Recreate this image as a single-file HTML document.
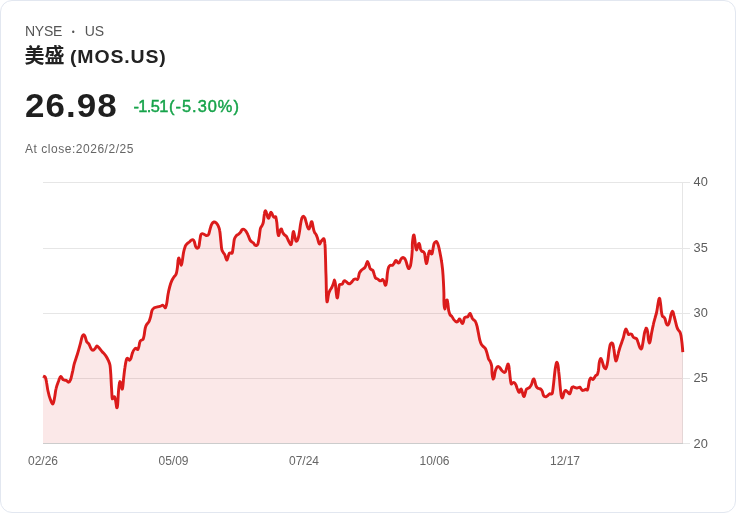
<!DOCTYPE html>
<html lang="zh">
<head>
<meta charset="utf-8">
<title>美盛 (MOS.US)</title>
<style>
html,body{margin:0;padding:0;background:#fff;}
body{width:736px;height:513px;overflow:hidden;font-family:"Liberation Sans","Noto Sans CJK SC",sans-serif;}
.card{position:absolute;left:0;top:0;width:734px;height:511px;border:1px solid #e2e7f0;border-radius:12px;background:#fff;}
.t{position:absolute;white-space:nowrap;line-height:1;transform-origin:0 0;}
#ex{left:25px;top:24px;font-size:14px;color:#555;transform:translateZ(0);}
#ex .a{letter-spacing:-0.25px;}
#ex .d{display:inline-block;font-size:8.5px;vertical-align:0.6px;margin:0 10px 0 9.6px;}
#nm{left:25px;top:46px;font-size:18px;font-weight:700;color:#222;}
#nm b{font-size:20px;font-weight:700;position:relative;top:0px;margin-left:-0.5px;}
#nm span{display:inline-block;transform-origin:0 50%;transform:scaleX(1.08);letter-spacing:0.8px;}
#px{left:25px;top:88.6px;font-size:33px;font-weight:700;color:#1f1f1f;letter-spacing:1px;transform:scaleX(1.06);}
#ch{left:133.5px;top:98.4px;font-size:16.4px;color:#16a34a;-webkit-text-stroke:0.45px #16a34a;transform:translateZ(0);}
#ch .a{letter-spacing:-0.6px;}
#ch .b{letter-spacing:1px;margin-left:1.2px;}
#cl{left:25px;top:143px;font-size:12px;color:#666;letter-spacing:0.53px;}
svg{position:absolute;left:0;top:0;}
svg text{font-family:"Liberation Sans",sans-serif;font-size:12.8px;fill:#5c5c5c;}
svg .xl text{font-size:12px;fill:#666;}
</style>
</head>
<body>
<div class="card"></div>
<div class="t" id="ex"><span class="a">NYSE</span><span class="d">•</span>US</div>
<div class="t" id="nm"><b>美盛</b> <span>(MOS.US)</span></div>
<div class="t" id="px">26.98</div>
<div class="t" id="ch"><span class="a">-1.51</span><span class="b">(-5.30%)</span></div>
<div class="t" id="cl">At close:2026/2/25</div>
<svg width="736" height="513" viewBox="0 0 736 513">
<g stroke="#e6e6e6" stroke-width="1" shape-rendering="crispEdges">
<line x1="43" y1="182.5" x2="690" y2="182.5"/>
<line x1="43" y1="248.5" x2="690" y2="248.5"/>
<line x1="43" y1="313.5" x2="690" y2="313.5"/>
<line x1="43" y1="378.5" x2="690" y2="378.5"/>

<line x1="682.5" y1="182" x2="682.5" y2="444"/>
</g>
<!--AREA--><path d="M43.0 376.1 C43.4 376.3 44.7 376.1 45.3 377.2 C45.9 378.3 46.2 380.4 46.6 382.7 C47.1 385.0 47.3 388.2 48.0 391.0 C48.6 393.8 49.4 397.1 50.3 399.3 C51.1 401.4 52.2 404.2 52.9 403.9 C53.6 403.6 54.1 400.2 54.6 397.6 C55.1 395.1 55.4 391.3 56.1 388.5 C56.7 385.7 57.8 383.1 58.6 381.0 C59.3 379.0 59.9 376.6 60.7 376.4 C61.5 376.2 62.3 379.1 63.2 379.7 C64.1 380.4 65.3 380.0 66.2 380.4 C67.1 380.8 67.8 382.4 68.5 382.2 C69.3 382.0 70.0 381.2 70.7 379.4 C71.4 377.5 72.0 373.7 72.7 371.1 C73.3 368.5 73.5 366.4 74.3 363.6 C75.1 360.9 76.3 357.7 77.3 354.5 C78.3 351.3 79.3 347.6 80.1 344.6 C80.9 341.5 81.7 337.9 82.3 336.3 C82.8 334.6 83.1 334.6 83.6 334.6 C84.1 334.7 84.6 335.4 85.1 336.6 C85.6 337.8 86.1 340.5 86.7 341.8 C87.4 343.0 88.2 342.8 88.9 343.9 C89.6 345.1 90.4 347.6 91.1 348.7 C91.7 349.8 92.4 350.4 93.0 350.4 C93.7 350.4 94.4 349.5 95.0 348.7 C95.7 348.0 96.2 346.1 96.9 345.9 C97.5 345.7 98.0 346.6 98.8 347.6 C99.7 348.5 101.1 350.4 102.2 351.7 C103.3 353.0 104.5 353.9 105.5 355.4 C106.5 356.8 107.5 358.7 108.3 360.3 C109.0 362.0 109.5 362.9 110.0 365.3 C110.4 367.6 110.5 371.0 110.8 374.4 C111.0 377.9 111.2 382.1 111.4 386.0 C111.7 389.9 111.9 395.5 112.1 397.6 C112.4 399.7 112.5 398.6 112.9 398.4 C113.3 398.3 114.1 396.2 114.6 396.8 C115.1 397.3 115.4 400.0 115.8 401.8 C116.1 403.6 116.4 407.0 116.7 407.6 C117.1 408.1 117.3 407.6 117.6 405.1 C117.9 402.6 118.1 396.4 118.4 392.6 C118.7 388.9 119.2 384.4 119.6 382.7 C119.9 381.0 120.2 381.5 120.6 382.4 C120.9 383.2 121.2 386.7 121.6 387.7 C121.9 388.7 122.2 389.9 122.5 388.5 C122.9 387.1 123.2 382.8 123.5 379.4 C123.9 375.9 124.4 371.0 124.9 367.8 C125.3 364.6 125.8 361.9 126.2 360.3 C126.6 358.7 127.0 358.2 127.5 358.2 C128.1 358.2 129.0 360.2 129.5 360.3 C130.1 360.4 130.3 359.9 130.8 358.7 C131.3 357.4 131.9 354.4 132.5 352.9 C133.0 351.3 133.6 350.3 134.2 349.5 C134.7 348.8 135.2 348.2 135.8 348.2 C136.4 348.2 137.3 349.9 137.8 349.5 C138.3 349.2 138.6 347.6 139.0 346.2 C139.3 344.9 139.5 342.6 140.0 341.6 C140.4 340.6 140.9 340.5 141.4 340.1 C142.0 339.7 142.7 340.0 143.1 339.3 C143.5 338.5 143.7 337.3 144.1 335.5 C144.5 333.6 144.8 329.8 145.3 328.0 C145.7 326.2 145.9 325.7 146.6 324.6 C147.2 323.5 148.4 322.7 149.1 321.3 C149.8 319.9 150.2 318.1 150.7 316.3 C151.2 314.5 151.5 311.9 152.0 310.5 C152.6 309.1 153.2 308.7 154.0 308.0 C154.9 307.4 156.2 307.2 157.4 306.9 C158.5 306.6 159.8 306.3 160.7 306.1 C161.5 305.8 162.0 305.1 162.7 305.2 C163.3 305.3 163.8 306.3 164.3 306.7 C164.8 307.1 165.1 308.3 165.5 307.7 C165.9 307.1 166.4 305.4 166.8 303.1 C167.2 300.8 167.6 296.7 168.1 294.0 C168.6 291.2 169.2 288.7 169.8 286.5 C170.4 284.3 171.1 282.3 171.8 280.7 C172.5 279.1 173.2 278.1 173.9 277.0 C174.6 276.0 175.4 275.9 175.9 274.6 C176.5 273.2 176.9 271.4 177.2 269.1 C177.6 266.8 177.8 262.7 178.1 260.8 C178.3 259.0 178.6 257.8 178.9 258.0 C179.2 258.1 179.7 260.4 180.1 261.6 C180.4 262.8 180.9 265.3 181.2 265.3 C181.6 265.3 181.8 263.8 182.2 261.6 C182.6 259.4 183.1 254.7 183.6 252.2 C184.1 249.6 184.7 247.8 185.2 246.4 C185.8 245.0 186.3 244.6 186.9 243.9 C187.5 243.2 188.3 242.8 189.1 242.2 C189.8 241.6 190.5 240.7 191.2 240.3 C191.9 239.8 192.7 239.4 193.2 239.8 C193.8 240.1 194.1 241.1 194.5 242.2 C194.9 243.4 195.2 245.7 195.7 246.7 C196.2 247.7 196.8 248.4 197.4 248.4 C197.9 248.4 198.4 248.0 198.8 246.7 C199.3 245.4 199.5 242.6 199.8 240.6 C200.2 238.6 200.4 235.9 200.8 234.8 C201.2 233.6 201.7 233.7 202.3 233.6 C202.9 233.6 203.7 234.1 204.5 234.5 C205.2 234.8 206.1 235.6 206.8 235.6 C207.5 235.6 208.1 235.6 208.6 234.5 C209.2 233.3 209.6 230.7 210.1 229.0 C210.6 227.2 211.1 225.2 211.8 224.0 C212.4 222.8 213.2 222.2 213.9 222.0 C214.6 221.8 215.4 222.2 216.1 222.8 C216.8 223.5 217.5 224.4 218.1 225.7 C218.7 227.0 219.3 228.3 219.7 230.6 C220.2 233.0 220.4 236.7 220.7 239.8 C221.1 242.8 221.3 246.8 221.7 248.9 C222.1 250.9 222.5 251.2 223.0 252.2 C223.5 253.2 224.2 253.7 224.7 254.7 C225.2 255.7 225.6 257.4 226.0 258.3 C226.4 259.2 226.7 260.2 227.0 260.0 C227.4 259.8 227.6 258.3 228.0 257.2 C228.4 256.1 228.8 254.0 229.3 253.3 C229.8 252.7 230.5 253.1 231.0 253.0 C231.5 252.9 231.9 253.8 232.3 252.7 C232.7 251.6 233.0 248.6 233.3 246.4 C233.7 244.2 233.9 241.1 234.3 239.4 C234.8 237.7 235.3 237.0 236.0 236.1 C236.6 235.3 237.5 234.9 238.3 234.3 C239.0 233.6 239.8 233.1 240.4 232.3 C241.1 231.5 241.6 230.0 242.1 229.5 C242.7 229.0 243.1 229.0 243.8 229.3 C244.4 229.6 245.2 230.2 245.9 231.1 C246.6 232.0 247.2 233.3 247.9 234.8 C248.6 236.2 249.3 238.6 249.9 239.8 C250.5 240.9 251.0 241.2 251.6 241.7 C252.1 242.2 252.7 242.2 253.2 242.7 C253.8 243.3 254.4 244.6 254.9 245.1 C255.4 245.5 255.7 245.8 256.2 245.6 C256.7 245.4 257.4 245.3 257.9 243.9 C258.4 242.5 258.8 239.8 259.2 237.3 C259.6 234.8 259.9 230.9 260.3 229.0 C260.8 227.0 261.5 226.8 262.0 225.7 C262.5 224.6 262.9 224.4 263.3 222.4 C263.7 220.3 264.1 215.2 264.5 213.2 C264.8 211.3 265.1 210.7 265.5 210.7 C265.8 210.7 266.3 212.1 266.6 213.2 C267.0 214.3 267.4 216.5 267.8 217.4 C268.2 218.2 268.5 218.6 268.8 218.2 C269.1 217.8 269.5 215.9 269.8 214.9 C270.1 213.9 270.4 212.6 270.8 212.4 C271.1 212.2 271.6 212.9 271.9 213.6 C272.3 214.2 272.7 215.6 273.1 216.2 C273.5 216.9 274.0 217.2 274.4 217.4 C274.9 217.5 275.4 216.2 275.8 217.0 C276.1 217.9 276.4 219.8 276.8 222.4 C277.1 224.9 277.4 230.1 277.7 232.3 C278.1 234.5 278.4 235.9 278.7 235.6 C279.1 235.3 279.6 231.7 280.1 230.6 C280.5 229.5 280.9 228.7 281.4 229.0 C281.8 229.3 282.2 231.3 282.7 232.3 C283.2 233.3 283.8 234.1 284.4 234.8 C285.0 235.5 285.8 235.6 286.4 236.4 C287.0 237.3 287.5 238.7 288.0 239.8 C288.6 240.9 289.2 242.2 289.7 243.1 C290.2 243.9 290.6 245.0 291.0 244.7 C291.4 244.5 291.7 243.2 291.9 241.4 C292.2 239.6 292.5 235.6 292.8 234.0 C293.1 232.3 293.3 231.2 293.6 231.5 C293.9 231.8 294.2 234.1 294.6 235.6 C295.0 237.2 295.4 239.7 295.8 240.6 C296.1 241.5 296.5 241.4 296.9 240.9 C297.3 240.5 297.8 239.6 298.2 238.1 C298.7 236.7 299.0 234.7 299.4 232.3 C299.8 230.0 300.2 226.4 300.6 224.0 C301.0 221.6 301.4 219.2 301.9 217.9 C302.4 216.6 303.1 216.2 303.5 216.2 C304.0 216.2 304.4 216.9 304.9 217.9 C305.3 218.9 305.8 220.9 306.2 222.4 C306.6 223.9 307.1 225.7 307.5 226.9 C308.0 228.0 308.4 229.1 308.9 229.0 C309.3 229.0 309.8 227.7 310.2 226.5 C310.6 225.4 310.8 222.7 311.2 222.0 C311.5 221.4 311.8 221.5 312.2 222.4 C312.5 223.3 312.8 225.7 313.2 227.4 C313.5 229.0 314.0 231.1 314.5 232.3 C315.0 233.5 315.6 233.5 316.1 234.5 C316.6 235.4 317.0 236.7 317.5 238.1 C317.9 239.5 318.4 241.8 318.8 242.8 C319.2 243.7 319.4 244.1 319.8 243.9 C320.2 243.7 320.6 242.2 321.1 241.4 C321.6 240.7 322.3 239.9 322.8 239.5 C323.3 239.0 323.7 238.2 324.1 239.0 C324.5 239.7 324.7 241.3 324.9 243.9 C325.2 246.6 325.3 250.4 325.4 254.7 C325.6 259.0 325.7 265.7 325.8 269.6 C325.9 273.5 326.0 274.2 326.1 278.1 C326.2 282.0 326.3 289.1 326.4 293.0 C326.5 296.9 326.7 300.1 326.9 301.3 C327.1 302.5 327.3 301.7 327.6 300.5 C327.8 299.2 328.2 295.5 328.6 293.8 C329.0 292.2 329.3 291.6 329.9 290.5 C330.4 289.4 331.3 288.5 331.9 287.2 C332.5 286.0 333.1 284.3 333.5 283.1 C334.0 281.9 334.2 279.9 334.5 280.1 C334.8 280.2 335.1 281.9 335.4 283.9 C335.6 285.9 335.9 289.9 336.2 292.2 C336.5 294.5 336.7 297.0 337.0 297.7 C337.3 298.3 337.6 297.8 337.8 296.3 C338.1 294.9 338.4 290.8 338.7 288.9 C339.0 286.9 339.1 285.5 339.5 284.7 C339.9 284.0 340.7 284.5 341.2 284.4 C341.7 284.3 342.1 284.4 342.5 283.9 C342.9 283.4 343.3 282.0 343.6 281.4 C344.0 280.9 344.3 280.5 344.8 280.6 C345.3 280.7 345.9 281.4 346.5 281.9 C347.1 282.4 347.8 283.3 348.5 283.6 C349.1 283.8 349.5 283.9 350.1 283.6 C350.7 283.2 351.6 282.1 352.3 281.4 C352.9 280.7 353.4 279.8 353.9 279.4 C354.5 279.0 355.0 278.9 355.6 278.9 C356.2 278.9 356.9 279.7 357.4 279.4 C357.9 279.1 358.1 278.3 358.4 277.3 C358.7 276.2 359.0 274.2 359.4 273.1 C359.8 272.0 360.4 271.3 361.1 270.6 C361.7 269.9 362.4 269.5 363.0 269.0 C363.7 268.4 364.5 268.2 365.0 267.3 C365.6 266.5 365.9 265.0 366.4 264.0 C366.8 263.0 367.1 261.5 367.5 261.5 C367.9 261.5 368.3 262.9 368.7 264.0 C369.1 265.1 369.5 267.2 370.0 268.2 C370.5 269.1 371.2 269.4 371.7 269.8 C372.2 270.2 372.5 269.8 373.0 270.6 C373.4 271.5 373.9 273.5 374.3 274.8 C374.8 276.0 375.1 277.4 375.6 278.1 C376.2 278.8 377.0 278.5 377.6 278.9 C378.3 279.3 379.0 280.3 379.6 280.6 C380.2 280.9 380.8 280.8 381.3 280.6 C381.8 280.4 382.2 279.3 382.6 279.4 C383.0 279.5 383.5 280.3 383.9 281.1 C384.3 281.9 384.6 283.7 384.9 284.4 C385.2 285.1 385.5 285.6 385.8 285.1 C386.0 284.6 386.3 283.4 386.6 281.4 C386.9 279.4 387.1 275.5 387.4 273.1 C387.7 270.8 388.1 268.6 388.6 267.3 C389.1 266.0 389.7 265.7 390.4 265.3 C391.1 265.0 391.9 265.7 392.5 265.3 C393.2 265.0 393.7 264.0 394.2 263.2 C394.7 262.4 395.0 261.1 395.4 260.7 C395.8 260.3 396.1 260.3 396.5 260.7 C396.9 261.1 397.4 262.5 397.9 262.8 C398.3 263.2 398.7 263.3 399.2 262.8 C399.6 262.4 400.0 260.7 400.5 259.9 C401.0 259.0 401.6 258.2 402.2 257.9 C402.7 257.5 403.3 257.5 403.8 257.9 C404.4 258.2 405.0 258.8 405.5 259.9 C406.0 260.9 406.4 262.7 406.8 264.0 C407.2 265.3 407.7 267.1 408.1 267.8 C408.5 268.6 408.7 268.8 409.1 268.5 C409.5 268.1 410.0 267.4 410.5 265.7 C410.9 264.0 411.3 260.8 411.6 258.2 C411.9 255.6 412.1 252.4 412.3 249.9 C412.4 247.4 412.2 245.4 412.4 243.2 C412.6 241.0 413.0 237.9 413.2 236.5 C413.5 235.2 413.8 234.7 414.1 235.2 C414.3 235.8 414.6 237.8 414.9 239.9 C415.2 241.9 415.4 245.6 415.7 247.3 C416.0 249.0 416.3 250.1 416.6 250.1 C416.9 250.1 417.2 248.4 417.5 247.3 C417.9 246.2 418.4 243.9 418.7 243.5 C419.1 243.1 419.4 243.9 419.7 244.8 C420.0 245.7 420.2 247.9 420.5 249.0 C420.9 250.0 421.2 250.7 421.7 251.1 C422.2 251.6 422.9 251.3 423.4 251.8 C423.8 252.3 424.3 252.6 424.7 254.0 C425.0 255.3 425.2 258.2 425.5 259.8 C425.8 261.3 426.1 263.1 426.3 263.4 C426.6 263.7 426.9 262.7 427.2 261.4 C427.5 260.1 427.8 257.3 428.2 255.6 C428.5 254.0 428.8 252.2 429.2 251.5 C429.5 250.7 429.8 250.8 430.1 251.1 C430.5 251.5 430.8 253.2 431.1 253.6 C431.5 254.0 431.8 254.4 432.1 253.5 C432.5 252.5 432.8 249.8 433.1 248.2 C433.5 246.5 433.7 244.6 434.1 243.5 C434.5 242.5 435.0 242.1 435.5 241.9 C435.9 241.6 436.4 241.4 436.9 242.0 C437.4 242.7 437.9 244.0 438.4 245.7 C438.9 247.4 439.4 249.8 439.9 252.3 C440.4 254.8 441.0 257.7 441.4 260.6 C441.9 263.5 442.2 266.2 442.6 269.7 C442.9 273.2 443.2 277.4 443.4 281.3 C443.6 285.2 443.8 289.7 443.9 292.9 C444.0 296.1 443.9 298.8 443.9 300.7 C444.0 302.7 444.0 303.5 444.1 304.9 C444.2 306.3 444.5 308.9 444.8 309.0 C445.0 309.2 445.3 307.1 445.6 305.7 C445.9 304.3 446.1 301.7 446.4 300.7 C446.7 299.8 447.0 299.7 447.2 300.2 C447.5 300.8 447.7 302.3 447.9 304.1 C448.2 305.8 448.4 309.0 448.7 310.7 C449.1 312.4 449.4 313.5 449.9 314.5 C450.4 315.5 451.2 315.7 451.9 316.5 C452.5 317.3 453.1 318.6 453.7 319.5 C454.3 320.3 455.1 321.1 455.7 321.5 C456.3 321.9 456.9 322.1 457.4 321.8 C457.8 321.5 458.3 320.3 458.7 319.8 C459.1 319.3 459.4 318.6 459.8 319.0 C460.3 319.3 460.7 321.0 461.2 321.8 C461.6 322.6 462.1 323.7 462.5 323.6 C462.9 323.6 463.2 322.4 463.5 321.5 C463.8 320.5 464.0 318.6 464.5 317.8 C464.9 317.1 465.6 317.2 466.1 317.0 C466.7 316.8 467.3 317.2 467.8 316.8 C468.3 316.4 468.7 315.1 469.1 314.5 C469.5 314.0 469.8 313.4 470.1 313.5 C470.4 313.6 470.7 314.5 471.1 315.3 C471.5 316.2 471.9 317.8 472.4 318.6 C472.9 319.5 473.6 319.6 474.1 320.1 C474.6 320.7 475.1 320.7 475.6 321.8 C476.1 322.8 476.6 324.6 477.1 326.4 C477.5 328.3 478.0 330.9 478.4 333.1 C478.8 335.3 479.3 337.9 479.7 339.7 C480.2 341.5 480.5 342.7 481.1 343.8 C481.6 345.0 482.3 345.5 483.0 346.3 C483.8 347.2 484.8 347.6 485.5 348.8 C486.2 350.1 486.7 352.1 487.2 353.8 C487.7 355.4 488.0 357.4 488.5 358.8 C489.1 360.1 490.0 360.8 490.5 362.1 C491.0 363.3 491.4 364.3 491.7 366.2 C491.9 368.2 491.9 371.8 492.1 373.9 C492.3 376.0 492.8 378.3 493.1 378.9 C493.4 379.4 493.7 378.5 494.1 377.2 C494.4 376.0 494.8 373.0 495.2 371.4 C495.7 369.8 496.1 368.6 496.6 367.8 C497.1 366.9 497.7 366.4 498.2 366.4 C498.8 366.4 499.3 367.1 499.9 367.8 C500.5 368.5 501.2 369.8 501.9 370.6 C502.5 371.3 503.1 372.0 503.7 372.2 C504.3 372.5 504.9 372.5 505.4 371.9 C505.8 371.3 506.2 369.6 506.5 368.4 C506.9 367.2 507.2 365.4 507.5 364.8 C507.8 364.1 508.2 363.7 508.5 364.5 C508.8 365.2 509.1 367.2 509.3 369.4 C509.6 371.7 509.9 375.6 510.2 378.0 C510.5 380.4 510.8 383.0 511.2 383.8 C511.5 384.7 512.0 383.2 512.5 383.0 C513.0 382.8 513.5 382.3 514.0 382.5 C514.5 382.7 515.1 383.4 515.6 384.3 C516.2 385.3 516.7 387.1 517.1 388.3 C517.6 389.5 518.1 391.0 518.5 391.6 C518.8 392.3 519.1 392.5 519.5 392.1 C519.8 391.8 520.1 390.1 520.4 389.6 C520.8 389.2 521.1 388.8 521.4 389.3 C521.8 389.8 522.1 391.5 522.4 392.6 C522.8 393.7 523.1 395.3 523.4 395.9 C523.7 396.6 524.0 396.8 524.3 396.3 C524.6 395.8 524.9 394.1 525.3 393.0 C525.6 391.8 525.9 390.1 526.4 389.3 C526.9 388.5 527.5 388.7 528.1 388.3 C528.6 388.0 529.2 387.8 529.7 387.2 C530.3 386.6 530.9 385.8 531.4 384.7 C531.9 383.6 532.3 381.5 532.7 380.5 C533.1 379.6 533.5 378.7 533.9 378.9 C534.2 379.0 534.5 380.3 534.9 381.4 C535.2 382.5 535.5 384.5 535.9 385.5 C536.2 386.6 536.7 387.2 537.2 387.7 C537.7 388.2 538.2 388.2 538.8 388.5 C539.5 388.8 540.4 388.8 541.0 389.3 C541.6 389.8 541.9 390.4 542.3 391.3 C542.7 392.2 542.9 394.1 543.3 395.0 C543.7 395.8 544.1 396.3 544.6 396.6 C545.1 396.9 545.8 396.8 546.3 396.6 C546.9 396.4 547.4 395.9 548.0 395.4 C548.5 395.0 549.1 394.0 549.6 393.8 C550.2 393.6 550.8 394.2 551.3 394.1 C551.7 394.0 552.0 394.3 552.3 393.3 C552.6 392.3 552.8 390.4 553.1 388.0 C553.4 385.6 553.8 381.9 554.1 378.9 C554.4 375.8 554.8 372.2 555.1 369.8 C555.4 367.3 555.8 365.2 556.1 364.0 C556.4 362.7 556.8 362.2 557.1 362.3 C557.4 362.4 557.6 363.3 557.9 364.8 C558.2 366.3 558.5 368.9 558.7 371.4 C559.0 373.9 559.3 376.8 559.6 379.7 C559.8 382.6 560.1 386.2 560.4 388.8 C560.7 391.4 560.9 393.9 561.2 395.4 C561.5 397.0 561.9 397.9 562.2 397.9 C562.5 398.0 562.9 396.9 563.2 395.9 C563.5 395.0 563.8 393.0 564.2 392.1 C564.6 391.2 565.1 390.6 565.5 390.5 C566.0 390.3 566.5 390.9 567.0 391.3 C567.5 391.7 568.0 392.5 568.5 393.0 C569.0 393.4 569.5 394.1 569.8 393.8 C570.2 393.5 570.5 392.3 570.8 391.3 C571.2 390.3 571.4 388.4 571.8 387.7 C572.2 386.9 572.7 386.9 573.2 386.8 C573.7 386.8 574.3 387.3 574.8 387.5 C575.4 387.7 575.9 388.0 576.5 388.0 C577.0 388.0 577.6 387.8 578.1 387.7 C578.7 387.5 579.3 387.0 579.8 387.2 C580.3 387.4 580.7 388.3 581.1 388.8 C581.6 389.4 581.9 390.3 582.4 390.5 C582.9 390.7 583.5 390.3 584.1 390.1 C584.7 390.0 585.2 389.3 585.8 389.3 C586.3 389.3 587.0 390.5 587.4 390.0 C587.9 389.5 588.1 387.9 588.4 386.3 C588.7 384.8 589.0 381.9 589.4 380.5 C589.8 379.1 590.1 378.3 590.6 378.0 C591.0 377.8 591.5 378.7 591.9 378.9 C592.3 379.1 592.6 379.6 593.0 379.4 C593.5 379.2 593.9 378.3 594.4 377.7 C594.8 377.1 595.2 376.1 595.7 375.6 C596.2 375.0 596.9 375.2 597.4 374.4 C597.8 373.6 598.0 372.5 598.4 370.6 C598.7 368.7 598.9 365.0 599.2 363.1 C599.5 361.2 599.9 360.0 600.2 359.3 C600.6 358.6 600.9 358.3 601.2 358.8 C601.6 359.3 602.0 360.8 602.4 362.1 C602.8 363.4 603.3 365.5 603.7 366.6 C604.2 367.7 604.8 368.7 605.2 368.7 C605.7 368.8 606.1 368.5 606.5 367.1 C607.0 365.7 607.5 363.1 607.9 360.4 C608.3 357.8 608.6 354.0 609.0 351.3 C609.4 348.7 609.8 346.1 610.2 344.7 C610.6 343.3 611.1 343.2 611.5 343.0 C612.0 342.9 612.5 342.9 612.8 343.9 C613.2 344.8 613.5 346.8 613.8 348.8 C614.2 350.9 614.5 354.3 614.8 356.3 C615.2 358.3 615.5 360.4 615.8 360.9 C616.2 361.4 616.4 360.5 616.8 359.3 C617.2 358.1 617.7 355.7 618.2 353.8 C618.6 351.9 619.2 350.0 619.8 348.0 C620.4 346.1 621.2 344.0 621.8 342.2 C622.4 340.4 623.0 339.0 623.5 337.2 C624.0 335.4 624.4 332.8 624.8 331.4 C625.2 330.1 625.6 329.0 625.9 329.0 C626.3 328.9 626.7 330.2 627.1 331.1 C627.5 332.0 627.9 334.0 628.4 334.4 C628.9 334.9 629.5 333.9 630.1 333.9 C630.6 333.9 631.2 333.9 631.7 334.4 C632.3 335.0 632.8 336.6 633.4 337.2 C634.0 337.8 634.5 337.8 635.1 338.1 C635.6 338.3 636.2 338.2 636.7 338.9 C637.2 339.6 637.6 341.0 638.0 342.2 C638.5 343.5 638.9 345.3 639.4 346.4 C639.8 347.5 640.3 348.6 640.7 348.8 C641.1 349.1 641.5 349.1 641.9 348.0 C642.2 346.9 642.6 344.6 643.0 342.2 C643.4 339.9 643.9 336.1 644.3 333.9 C644.8 331.7 645.3 329.9 645.7 329.0 C646.1 328.0 646.3 327.9 646.7 328.5 C647.0 329.0 647.4 330.4 647.7 332.3 C648.0 334.1 648.2 337.9 648.5 339.7 C648.8 341.5 649.0 342.9 649.3 343.0 C649.6 343.2 649.9 342.2 650.3 340.6 C650.7 338.9 651.1 335.7 651.6 333.1 C652.1 330.5 652.7 327.3 653.3 324.8 C653.8 322.3 654.4 320.3 655.0 318.2 C655.5 316.1 656.1 314.6 656.6 312.4 C657.1 310.1 657.5 306.8 657.9 304.6 C658.3 302.4 658.6 300.1 658.9 299.1 C659.2 298.1 659.5 298.0 659.8 298.8 C660.0 299.6 660.3 301.8 660.6 303.9 C660.9 306.1 661.1 309.5 661.4 311.5 C661.7 313.6 662.0 315.3 662.4 316.2 C662.8 317.1 663.3 316.4 663.7 316.9 C664.2 317.3 664.6 318.0 665.1 319.0 C665.5 320.1 665.8 322.1 666.2 323.2 C666.6 324.2 667.0 325.0 667.4 325.1 C667.8 325.3 668.3 324.9 668.7 324.0 C669.1 323.1 669.5 321.4 669.9 319.8 C670.3 318.3 670.6 315.9 671.0 314.5 C671.4 313.2 671.8 311.9 672.2 311.5 C672.5 311.2 672.8 311.5 673.2 312.4 C673.5 313.3 673.9 315.4 674.3 317.0 C674.8 318.7 675.2 320.6 675.7 322.3 C676.1 324.0 676.6 326.0 677.0 327.3 C677.4 328.6 677.9 329.4 678.3 330.1 C678.8 330.9 679.4 330.9 679.8 331.8 C680.3 332.7 680.6 333.7 681.0 335.6 C681.3 337.5 681.7 340.3 682.0 343.0 C682.3 345.8 682.7 350.6 682.8 352.2 L682.8 443 L43 443 Z" fill="rgba(220,28,28,0.1)" stroke="none"/>
<path d="M43.0 376.1 C43.4 376.3 44.7 376.1 45.3 377.2 C45.9 378.3 46.2 380.4 46.6 382.7 C47.1 385.0 47.3 388.2 48.0 391.0 C48.6 393.8 49.4 397.1 50.3 399.3 C51.1 401.4 52.2 404.2 52.9 403.9 C53.6 403.6 54.1 400.2 54.6 397.6 C55.1 395.1 55.4 391.3 56.1 388.5 C56.7 385.7 57.8 383.1 58.6 381.0 C59.3 379.0 59.9 376.6 60.7 376.4 C61.5 376.2 62.3 379.1 63.2 379.7 C64.1 380.4 65.3 380.0 66.2 380.4 C67.1 380.8 67.8 382.4 68.5 382.2 C69.3 382.0 70.0 381.2 70.7 379.4 C71.4 377.5 72.0 373.7 72.7 371.1 C73.3 368.5 73.5 366.4 74.3 363.6 C75.1 360.9 76.3 357.7 77.3 354.5 C78.3 351.3 79.3 347.6 80.1 344.6 C80.9 341.5 81.7 337.9 82.3 336.3 C82.8 334.6 83.1 334.6 83.6 334.6 C84.1 334.7 84.6 335.4 85.1 336.6 C85.6 337.8 86.1 340.5 86.7 341.8 C87.4 343.0 88.2 342.8 88.9 343.9 C89.6 345.1 90.4 347.6 91.1 348.7 C91.7 349.8 92.4 350.4 93.0 350.4 C93.7 350.4 94.4 349.5 95.0 348.7 C95.7 348.0 96.2 346.1 96.9 345.9 C97.5 345.7 98.0 346.6 98.8 347.6 C99.7 348.5 101.1 350.4 102.2 351.7 C103.3 353.0 104.5 353.9 105.5 355.4 C106.5 356.8 107.5 358.7 108.3 360.3 C109.0 362.0 109.5 362.9 110.0 365.3 C110.4 367.6 110.5 371.0 110.8 374.4 C111.0 377.9 111.2 382.1 111.4 386.0 C111.7 389.9 111.9 395.5 112.1 397.6 C112.4 399.7 112.5 398.6 112.9 398.4 C113.3 398.3 114.1 396.2 114.6 396.8 C115.1 397.3 115.4 400.0 115.8 401.8 C116.1 403.6 116.4 407.0 116.7 407.6 C117.1 408.1 117.3 407.6 117.6 405.1 C117.9 402.6 118.1 396.4 118.4 392.6 C118.7 388.9 119.2 384.4 119.6 382.7 C119.9 381.0 120.2 381.5 120.6 382.4 C120.9 383.2 121.2 386.7 121.6 387.7 C121.9 388.7 122.2 389.9 122.5 388.5 C122.9 387.1 123.2 382.8 123.5 379.4 C123.9 375.9 124.4 371.0 124.9 367.8 C125.3 364.6 125.8 361.9 126.2 360.3 C126.6 358.7 127.0 358.2 127.5 358.2 C128.1 358.2 129.0 360.2 129.5 360.3 C130.1 360.4 130.3 359.9 130.8 358.7 C131.3 357.4 131.9 354.4 132.5 352.9 C133.0 351.3 133.6 350.3 134.2 349.5 C134.7 348.8 135.2 348.2 135.8 348.2 C136.4 348.2 137.3 349.9 137.8 349.5 C138.3 349.2 138.6 347.6 139.0 346.2 C139.3 344.9 139.5 342.6 140.0 341.6 C140.4 340.6 140.9 340.5 141.4 340.1 C142.0 339.7 142.7 340.0 143.1 339.3 C143.5 338.5 143.7 337.3 144.1 335.5 C144.5 333.6 144.8 329.8 145.3 328.0 C145.7 326.2 145.9 325.7 146.6 324.6 C147.2 323.5 148.4 322.7 149.1 321.3 C149.8 319.9 150.2 318.1 150.7 316.3 C151.2 314.5 151.5 311.9 152.0 310.5 C152.6 309.1 153.2 308.7 154.0 308.0 C154.9 307.4 156.2 307.2 157.4 306.9 C158.5 306.6 159.8 306.3 160.7 306.1 C161.5 305.8 162.0 305.1 162.7 305.2 C163.3 305.3 163.8 306.3 164.3 306.7 C164.8 307.1 165.1 308.3 165.5 307.7 C165.9 307.1 166.4 305.4 166.8 303.1 C167.2 300.8 167.6 296.7 168.1 294.0 C168.6 291.2 169.2 288.7 169.8 286.5 C170.4 284.3 171.1 282.3 171.8 280.7 C172.5 279.1 173.2 278.1 173.9 277.0 C174.6 276.0 175.4 275.9 175.9 274.6 C176.5 273.2 176.9 271.4 177.2 269.1 C177.6 266.8 177.8 262.7 178.1 260.8 C178.3 259.0 178.6 257.8 178.9 258.0 C179.2 258.1 179.7 260.4 180.1 261.6 C180.4 262.8 180.9 265.3 181.2 265.3 C181.6 265.3 181.8 263.8 182.2 261.6 C182.6 259.4 183.1 254.7 183.6 252.2 C184.1 249.6 184.7 247.8 185.2 246.4 C185.8 245.0 186.3 244.6 186.9 243.9 C187.5 243.2 188.3 242.8 189.1 242.2 C189.8 241.6 190.5 240.7 191.2 240.3 C191.9 239.8 192.7 239.4 193.2 239.8 C193.8 240.1 194.1 241.1 194.5 242.2 C194.9 243.4 195.2 245.7 195.7 246.7 C196.2 247.7 196.8 248.4 197.4 248.4 C197.9 248.4 198.4 248.0 198.8 246.7 C199.3 245.4 199.5 242.6 199.8 240.6 C200.2 238.6 200.4 235.9 200.8 234.8 C201.2 233.6 201.7 233.7 202.3 233.6 C202.9 233.6 203.7 234.1 204.5 234.5 C205.2 234.8 206.1 235.6 206.8 235.6 C207.5 235.6 208.1 235.6 208.6 234.5 C209.2 233.3 209.6 230.7 210.1 229.0 C210.6 227.2 211.1 225.2 211.8 224.0 C212.4 222.8 213.2 222.2 213.9 222.0 C214.6 221.8 215.4 222.2 216.1 222.8 C216.8 223.5 217.5 224.4 218.1 225.7 C218.7 227.0 219.3 228.3 219.7 230.6 C220.2 233.0 220.4 236.7 220.7 239.8 C221.1 242.8 221.3 246.8 221.7 248.9 C222.1 250.9 222.5 251.2 223.0 252.2 C223.5 253.2 224.2 253.7 224.7 254.7 C225.2 255.7 225.6 257.4 226.0 258.3 C226.4 259.2 226.7 260.2 227.0 260.0 C227.4 259.8 227.6 258.3 228.0 257.2 C228.4 256.1 228.8 254.0 229.3 253.3 C229.8 252.7 230.5 253.1 231.0 253.0 C231.5 252.9 231.9 253.8 232.3 252.7 C232.7 251.6 233.0 248.6 233.3 246.4 C233.7 244.2 233.9 241.1 234.3 239.4 C234.8 237.7 235.3 237.0 236.0 236.1 C236.6 235.3 237.5 234.9 238.3 234.3 C239.0 233.6 239.8 233.1 240.4 232.3 C241.1 231.5 241.6 230.0 242.1 229.5 C242.7 229.0 243.1 229.0 243.8 229.3 C244.4 229.6 245.2 230.2 245.9 231.1 C246.6 232.0 247.2 233.3 247.9 234.8 C248.6 236.2 249.3 238.6 249.9 239.8 C250.5 240.9 251.0 241.2 251.6 241.7 C252.1 242.2 252.7 242.2 253.2 242.7 C253.8 243.3 254.4 244.6 254.9 245.1 C255.4 245.5 255.7 245.8 256.2 245.6 C256.7 245.4 257.4 245.3 257.9 243.9 C258.4 242.5 258.8 239.8 259.2 237.3 C259.6 234.8 259.9 230.9 260.3 229.0 C260.8 227.0 261.5 226.8 262.0 225.7 C262.5 224.6 262.9 224.4 263.3 222.4 C263.7 220.3 264.1 215.2 264.5 213.2 C264.8 211.3 265.1 210.7 265.5 210.7 C265.8 210.7 266.3 212.1 266.6 213.2 C267.0 214.3 267.4 216.5 267.8 217.4 C268.2 218.2 268.5 218.6 268.8 218.2 C269.1 217.8 269.5 215.9 269.8 214.9 C270.1 213.9 270.4 212.6 270.8 212.4 C271.1 212.2 271.6 212.9 271.9 213.6 C272.3 214.2 272.7 215.6 273.1 216.2 C273.5 216.9 274.0 217.2 274.4 217.4 C274.9 217.5 275.4 216.2 275.8 217.0 C276.1 217.9 276.4 219.8 276.8 222.4 C277.1 224.9 277.4 230.1 277.7 232.3 C278.1 234.5 278.4 235.9 278.7 235.6 C279.1 235.3 279.6 231.7 280.1 230.6 C280.5 229.5 280.9 228.7 281.4 229.0 C281.8 229.3 282.2 231.3 282.7 232.3 C283.2 233.3 283.8 234.1 284.4 234.8 C285.0 235.5 285.8 235.6 286.4 236.4 C287.0 237.3 287.5 238.7 288.0 239.8 C288.6 240.9 289.2 242.2 289.7 243.1 C290.2 243.9 290.6 245.0 291.0 244.7 C291.4 244.5 291.7 243.2 291.9 241.4 C292.2 239.6 292.5 235.6 292.8 234.0 C293.1 232.3 293.3 231.2 293.6 231.5 C293.9 231.8 294.2 234.1 294.6 235.6 C295.0 237.2 295.4 239.7 295.8 240.6 C296.1 241.5 296.5 241.4 296.9 240.9 C297.3 240.5 297.8 239.6 298.2 238.1 C298.7 236.7 299.0 234.7 299.4 232.3 C299.8 230.0 300.2 226.4 300.6 224.0 C301.0 221.6 301.4 219.2 301.9 217.9 C302.4 216.6 303.1 216.2 303.5 216.2 C304.0 216.2 304.4 216.9 304.9 217.9 C305.3 218.9 305.8 220.9 306.2 222.4 C306.6 223.9 307.1 225.7 307.5 226.9 C308.0 228.0 308.4 229.1 308.9 229.0 C309.3 229.0 309.8 227.7 310.2 226.5 C310.6 225.4 310.8 222.7 311.2 222.0 C311.5 221.4 311.8 221.5 312.2 222.4 C312.5 223.3 312.8 225.7 313.2 227.4 C313.5 229.0 314.0 231.1 314.5 232.3 C315.0 233.5 315.6 233.5 316.1 234.5 C316.6 235.4 317.0 236.7 317.5 238.1 C317.9 239.5 318.4 241.8 318.8 242.8 C319.2 243.7 319.4 244.1 319.8 243.9 C320.2 243.7 320.6 242.2 321.1 241.4 C321.6 240.7 322.3 239.9 322.8 239.5 C323.3 239.0 323.7 238.2 324.1 239.0 C324.5 239.7 324.7 241.3 324.9 243.9 C325.2 246.6 325.3 250.4 325.4 254.7 C325.6 259.0 325.7 265.7 325.8 269.6 C325.9 273.5 326.0 274.2 326.1 278.1 C326.2 282.0 326.3 289.1 326.4 293.0 C326.5 296.9 326.7 300.1 326.9 301.3 C327.1 302.5 327.3 301.7 327.6 300.5 C327.8 299.2 328.2 295.5 328.6 293.8 C329.0 292.2 329.3 291.6 329.9 290.5 C330.4 289.4 331.3 288.5 331.9 287.2 C332.5 286.0 333.1 284.3 333.5 283.1 C334.0 281.9 334.2 279.9 334.5 280.1 C334.8 280.2 335.1 281.9 335.4 283.9 C335.6 285.9 335.9 289.9 336.2 292.2 C336.5 294.5 336.7 297.0 337.0 297.7 C337.3 298.3 337.6 297.8 337.8 296.3 C338.1 294.9 338.4 290.8 338.7 288.9 C339.0 286.9 339.1 285.5 339.5 284.7 C339.9 284.0 340.7 284.5 341.2 284.4 C341.7 284.3 342.1 284.4 342.5 283.9 C342.9 283.4 343.3 282.0 343.6 281.4 C344.0 280.9 344.3 280.5 344.8 280.6 C345.3 280.7 345.9 281.4 346.5 281.9 C347.1 282.4 347.8 283.3 348.5 283.6 C349.1 283.8 349.5 283.9 350.1 283.6 C350.7 283.2 351.6 282.1 352.3 281.4 C352.9 280.7 353.4 279.8 353.9 279.4 C354.5 279.0 355.0 278.9 355.6 278.9 C356.2 278.9 356.9 279.7 357.4 279.4 C357.9 279.1 358.1 278.3 358.4 277.3 C358.7 276.2 359.0 274.2 359.4 273.1 C359.8 272.0 360.4 271.3 361.1 270.6 C361.7 269.9 362.4 269.5 363.0 269.0 C363.7 268.4 364.5 268.2 365.0 267.3 C365.6 266.5 365.9 265.0 366.4 264.0 C366.8 263.0 367.1 261.5 367.5 261.5 C367.9 261.5 368.3 262.9 368.7 264.0 C369.1 265.1 369.5 267.2 370.0 268.2 C370.5 269.1 371.2 269.4 371.7 269.8 C372.2 270.2 372.5 269.8 373.0 270.6 C373.4 271.5 373.9 273.5 374.3 274.8 C374.8 276.0 375.1 277.4 375.6 278.1 C376.2 278.8 377.0 278.5 377.6 278.9 C378.3 279.3 379.0 280.3 379.6 280.6 C380.2 280.9 380.8 280.8 381.3 280.6 C381.8 280.4 382.2 279.3 382.6 279.4 C383.0 279.5 383.5 280.3 383.9 281.1 C384.3 281.9 384.6 283.7 384.9 284.4 C385.2 285.1 385.5 285.6 385.8 285.1 C386.0 284.6 386.3 283.4 386.6 281.4 C386.9 279.4 387.1 275.5 387.4 273.1 C387.7 270.8 388.1 268.6 388.6 267.3 C389.1 266.0 389.7 265.7 390.4 265.3 C391.1 265.0 391.9 265.7 392.5 265.3 C393.2 265.0 393.7 264.0 394.2 263.2 C394.7 262.4 395.0 261.1 395.4 260.7 C395.8 260.3 396.1 260.3 396.5 260.7 C396.9 261.1 397.4 262.5 397.9 262.8 C398.3 263.2 398.7 263.3 399.2 262.8 C399.6 262.4 400.0 260.7 400.5 259.9 C401.0 259.0 401.6 258.2 402.2 257.9 C402.7 257.5 403.3 257.5 403.8 257.9 C404.4 258.2 405.0 258.8 405.5 259.9 C406.0 260.9 406.4 262.7 406.8 264.0 C407.2 265.3 407.7 267.1 408.1 267.8 C408.5 268.6 408.7 268.8 409.1 268.5 C409.5 268.1 410.0 267.4 410.5 265.7 C410.9 264.0 411.3 260.8 411.6 258.2 C411.9 255.6 412.1 252.4 412.3 249.9 C412.4 247.4 412.2 245.4 412.4 243.2 C412.6 241.0 413.0 237.9 413.2 236.5 C413.5 235.2 413.8 234.7 414.1 235.2 C414.3 235.8 414.6 237.8 414.9 239.9 C415.2 241.9 415.4 245.6 415.7 247.3 C416.0 249.0 416.3 250.1 416.6 250.1 C416.9 250.1 417.2 248.4 417.5 247.3 C417.9 246.2 418.4 243.9 418.7 243.5 C419.1 243.1 419.4 243.9 419.7 244.8 C420.0 245.7 420.2 247.9 420.5 249.0 C420.9 250.0 421.2 250.7 421.7 251.1 C422.2 251.6 422.9 251.3 423.4 251.8 C423.8 252.3 424.3 252.6 424.7 254.0 C425.0 255.3 425.2 258.2 425.5 259.8 C425.8 261.3 426.1 263.1 426.3 263.4 C426.6 263.7 426.9 262.7 427.2 261.4 C427.5 260.1 427.8 257.3 428.2 255.6 C428.5 254.0 428.8 252.2 429.2 251.5 C429.5 250.7 429.8 250.8 430.1 251.1 C430.5 251.5 430.8 253.2 431.1 253.6 C431.5 254.0 431.8 254.4 432.1 253.5 C432.5 252.5 432.8 249.8 433.1 248.2 C433.5 246.5 433.7 244.6 434.1 243.5 C434.5 242.5 435.0 242.1 435.5 241.9 C435.9 241.6 436.4 241.4 436.9 242.0 C437.4 242.7 437.9 244.0 438.4 245.7 C438.9 247.4 439.4 249.8 439.9 252.3 C440.4 254.8 441.0 257.7 441.4 260.6 C441.9 263.5 442.2 266.2 442.6 269.7 C442.9 273.2 443.2 277.4 443.4 281.3 C443.6 285.2 443.8 289.7 443.9 292.9 C444.0 296.1 443.9 298.8 443.9 300.7 C444.0 302.7 444.0 303.5 444.1 304.9 C444.2 306.3 444.5 308.9 444.8 309.0 C445.0 309.2 445.3 307.1 445.6 305.7 C445.9 304.3 446.1 301.7 446.4 300.7 C446.7 299.8 447.0 299.7 447.2 300.2 C447.5 300.8 447.7 302.3 447.9 304.1 C448.2 305.8 448.4 309.0 448.7 310.7 C449.1 312.4 449.4 313.5 449.9 314.5 C450.4 315.5 451.2 315.7 451.9 316.5 C452.5 317.3 453.1 318.6 453.7 319.5 C454.3 320.3 455.1 321.1 455.7 321.5 C456.3 321.9 456.9 322.1 457.4 321.8 C457.8 321.5 458.3 320.3 458.7 319.8 C459.1 319.3 459.4 318.6 459.8 319.0 C460.3 319.3 460.7 321.0 461.2 321.8 C461.6 322.6 462.1 323.7 462.5 323.6 C462.9 323.6 463.2 322.4 463.5 321.5 C463.8 320.5 464.0 318.6 464.5 317.8 C464.9 317.1 465.6 317.2 466.1 317.0 C466.7 316.8 467.3 317.2 467.8 316.8 C468.3 316.4 468.7 315.1 469.1 314.5 C469.5 314.0 469.8 313.4 470.1 313.5 C470.4 313.6 470.7 314.5 471.1 315.3 C471.5 316.2 471.9 317.8 472.4 318.6 C472.9 319.5 473.6 319.6 474.1 320.1 C474.6 320.7 475.1 320.7 475.6 321.8 C476.1 322.8 476.6 324.6 477.1 326.4 C477.5 328.3 478.0 330.9 478.4 333.1 C478.8 335.3 479.3 337.9 479.7 339.7 C480.2 341.5 480.5 342.7 481.1 343.8 C481.6 345.0 482.3 345.5 483.0 346.3 C483.8 347.2 484.8 347.6 485.5 348.8 C486.2 350.1 486.7 352.1 487.2 353.8 C487.7 355.4 488.0 357.4 488.5 358.8 C489.1 360.1 490.0 360.8 490.5 362.1 C491.0 363.3 491.4 364.3 491.7 366.2 C491.9 368.2 491.9 371.8 492.1 373.9 C492.3 376.0 492.8 378.3 493.1 378.9 C493.4 379.4 493.7 378.5 494.1 377.2 C494.4 376.0 494.8 373.0 495.2 371.4 C495.7 369.8 496.1 368.6 496.6 367.8 C497.1 366.9 497.7 366.4 498.2 366.4 C498.8 366.4 499.3 367.1 499.9 367.8 C500.5 368.5 501.2 369.8 501.9 370.6 C502.5 371.3 503.1 372.0 503.7 372.2 C504.3 372.5 504.9 372.5 505.4 371.9 C505.8 371.3 506.2 369.6 506.5 368.4 C506.9 367.2 507.2 365.4 507.5 364.8 C507.8 364.1 508.2 363.7 508.5 364.5 C508.8 365.2 509.1 367.2 509.3 369.4 C509.6 371.7 509.9 375.6 510.2 378.0 C510.5 380.4 510.8 383.0 511.2 383.8 C511.5 384.7 512.0 383.2 512.5 383.0 C513.0 382.8 513.5 382.3 514.0 382.5 C514.5 382.7 515.1 383.4 515.6 384.3 C516.2 385.3 516.7 387.1 517.1 388.3 C517.6 389.5 518.1 391.0 518.5 391.6 C518.8 392.3 519.1 392.5 519.5 392.1 C519.8 391.8 520.1 390.1 520.4 389.6 C520.8 389.2 521.1 388.8 521.4 389.3 C521.8 389.8 522.1 391.5 522.4 392.6 C522.8 393.7 523.1 395.3 523.4 395.9 C523.7 396.6 524.0 396.8 524.3 396.3 C524.6 395.8 524.9 394.1 525.3 393.0 C525.6 391.8 525.9 390.1 526.4 389.3 C526.9 388.5 527.5 388.7 528.1 388.3 C528.6 388.0 529.2 387.8 529.7 387.2 C530.3 386.6 530.9 385.8 531.4 384.7 C531.9 383.6 532.3 381.5 532.7 380.5 C533.1 379.6 533.5 378.7 533.9 378.9 C534.2 379.0 534.5 380.3 534.9 381.4 C535.2 382.5 535.5 384.5 535.9 385.5 C536.2 386.6 536.7 387.2 537.2 387.7 C537.7 388.2 538.2 388.2 538.8 388.5 C539.5 388.8 540.4 388.8 541.0 389.3 C541.6 389.8 541.9 390.4 542.3 391.3 C542.7 392.2 542.9 394.1 543.3 395.0 C543.7 395.8 544.1 396.3 544.6 396.6 C545.1 396.9 545.8 396.8 546.3 396.6 C546.9 396.4 547.4 395.9 548.0 395.4 C548.5 395.0 549.1 394.0 549.6 393.8 C550.2 393.6 550.8 394.2 551.3 394.1 C551.7 394.0 552.0 394.3 552.3 393.3 C552.6 392.3 552.8 390.4 553.1 388.0 C553.4 385.6 553.8 381.9 554.1 378.9 C554.4 375.8 554.8 372.2 555.1 369.8 C555.4 367.3 555.8 365.2 556.1 364.0 C556.4 362.7 556.8 362.2 557.1 362.3 C557.4 362.4 557.6 363.3 557.9 364.8 C558.2 366.3 558.5 368.9 558.7 371.4 C559.0 373.9 559.3 376.8 559.6 379.7 C559.8 382.6 560.1 386.2 560.4 388.8 C560.7 391.4 560.9 393.9 561.2 395.4 C561.5 397.0 561.9 397.9 562.2 397.9 C562.5 398.0 562.9 396.9 563.2 395.9 C563.5 395.0 563.8 393.0 564.2 392.1 C564.6 391.2 565.1 390.6 565.5 390.5 C566.0 390.3 566.5 390.9 567.0 391.3 C567.5 391.7 568.0 392.5 568.5 393.0 C569.0 393.4 569.5 394.1 569.8 393.8 C570.2 393.5 570.5 392.3 570.8 391.3 C571.2 390.3 571.4 388.4 571.8 387.7 C572.2 386.9 572.7 386.9 573.2 386.8 C573.7 386.8 574.3 387.3 574.8 387.5 C575.4 387.7 575.9 388.0 576.5 388.0 C577.0 388.0 577.6 387.8 578.1 387.7 C578.7 387.5 579.3 387.0 579.8 387.2 C580.3 387.4 580.7 388.3 581.1 388.8 C581.6 389.4 581.9 390.3 582.4 390.5 C582.9 390.7 583.5 390.3 584.1 390.1 C584.7 390.0 585.2 389.3 585.8 389.3 C586.3 389.3 587.0 390.5 587.4 390.0 C587.9 389.5 588.1 387.9 588.4 386.3 C588.7 384.8 589.0 381.9 589.4 380.5 C589.8 379.1 590.1 378.3 590.6 378.0 C591.0 377.8 591.5 378.7 591.9 378.9 C592.3 379.1 592.6 379.6 593.0 379.4 C593.5 379.2 593.9 378.3 594.4 377.7 C594.8 377.1 595.2 376.1 595.7 375.6 C596.2 375.0 596.9 375.2 597.4 374.4 C597.8 373.6 598.0 372.5 598.4 370.6 C598.7 368.7 598.9 365.0 599.2 363.1 C599.5 361.2 599.9 360.0 600.2 359.3 C600.6 358.6 600.9 358.3 601.2 358.8 C601.6 359.3 602.0 360.8 602.4 362.1 C602.8 363.4 603.3 365.5 603.7 366.6 C604.2 367.7 604.8 368.7 605.2 368.7 C605.7 368.8 606.1 368.5 606.5 367.1 C607.0 365.7 607.5 363.1 607.9 360.4 C608.3 357.8 608.6 354.0 609.0 351.3 C609.4 348.7 609.8 346.1 610.2 344.7 C610.6 343.3 611.1 343.2 611.5 343.0 C612.0 342.9 612.5 342.9 612.8 343.9 C613.2 344.8 613.5 346.8 613.8 348.8 C614.2 350.9 614.5 354.3 614.8 356.3 C615.2 358.3 615.5 360.4 615.8 360.9 C616.2 361.4 616.4 360.5 616.8 359.3 C617.2 358.1 617.7 355.7 618.2 353.8 C618.6 351.9 619.2 350.0 619.8 348.0 C620.4 346.1 621.2 344.0 621.8 342.2 C622.4 340.4 623.0 339.0 623.5 337.2 C624.0 335.4 624.4 332.8 624.8 331.4 C625.2 330.1 625.6 329.0 625.9 329.0 C626.3 328.9 626.7 330.2 627.1 331.1 C627.5 332.0 627.9 334.0 628.4 334.4 C628.9 334.9 629.5 333.9 630.1 333.9 C630.6 333.9 631.2 333.9 631.7 334.4 C632.3 335.0 632.8 336.6 633.4 337.2 C634.0 337.8 634.5 337.8 635.1 338.1 C635.6 338.3 636.2 338.2 636.7 338.9 C637.2 339.6 637.6 341.0 638.0 342.2 C638.5 343.5 638.9 345.3 639.4 346.4 C639.8 347.5 640.3 348.6 640.7 348.8 C641.1 349.1 641.5 349.1 641.9 348.0 C642.2 346.9 642.6 344.6 643.0 342.2 C643.4 339.9 643.9 336.1 644.3 333.9 C644.8 331.7 645.3 329.9 645.7 329.0 C646.1 328.0 646.3 327.9 646.7 328.5 C647.0 329.0 647.4 330.4 647.7 332.3 C648.0 334.1 648.2 337.9 648.5 339.7 C648.8 341.5 649.0 342.9 649.3 343.0 C649.6 343.2 649.9 342.2 650.3 340.6 C650.7 338.9 651.1 335.7 651.6 333.1 C652.1 330.5 652.7 327.3 653.3 324.8 C653.8 322.3 654.4 320.3 655.0 318.2 C655.5 316.1 656.1 314.6 656.6 312.4 C657.1 310.1 657.5 306.8 657.9 304.6 C658.3 302.4 658.6 300.1 658.9 299.1 C659.2 298.1 659.5 298.0 659.8 298.8 C660.0 299.6 660.3 301.8 660.6 303.9 C660.9 306.1 661.1 309.5 661.4 311.5 C661.7 313.6 662.0 315.3 662.4 316.2 C662.8 317.1 663.3 316.4 663.7 316.9 C664.2 317.3 664.6 318.0 665.1 319.0 C665.5 320.1 665.8 322.1 666.2 323.2 C666.6 324.2 667.0 325.0 667.4 325.1 C667.8 325.3 668.3 324.9 668.7 324.0 C669.1 323.1 669.5 321.4 669.9 319.8 C670.3 318.3 670.6 315.9 671.0 314.5 C671.4 313.2 671.8 311.9 672.2 311.5 C672.5 311.2 672.8 311.5 673.2 312.4 C673.5 313.3 673.9 315.4 674.3 317.0 C674.8 318.7 675.2 320.6 675.7 322.3 C676.1 324.0 676.6 326.0 677.0 327.3 C677.4 328.6 677.9 329.4 678.3 330.1 C678.8 330.9 679.4 330.9 679.8 331.8 C680.3 332.7 680.6 333.7 681.0 335.6 C681.3 337.5 681.7 340.3 682.0 343.0 C682.3 345.8 682.7 350.6 682.8 352.2" fill="none" stroke="#db1b1b" stroke-width="2.9" stroke-linejoin="round" stroke-linecap="butt"/><!--/AREA-->
<line x1="43" y1="443.5" x2="683" y2="443.5" stroke="#cccccc" shape-rendering="crispEdges"/><line x1="683" y1="443.5" x2="690" y2="443.5" stroke="#e6e6e6" shape-rendering="crispEdges"/>
<g text-anchor="start">
<text x="693.6" y="186">40</text>
<text x="693.6" y="252">35</text>
<text x="693.6" y="317">30</text>
<text x="693.6" y="382">25</text>
<text x="693.6" y="448">20</text>
</g>
<g class="xl" text-anchor="middle">
<text x="43" y="465">02/26</text>
<text x="173.5" y="465">05/09</text>
<text x="304" y="465">07/24</text>
<text x="434.5" y="465">10/06</text>
<text x="565" y="465">12/17</text>
</g>
</svg>
</body>
</html>
